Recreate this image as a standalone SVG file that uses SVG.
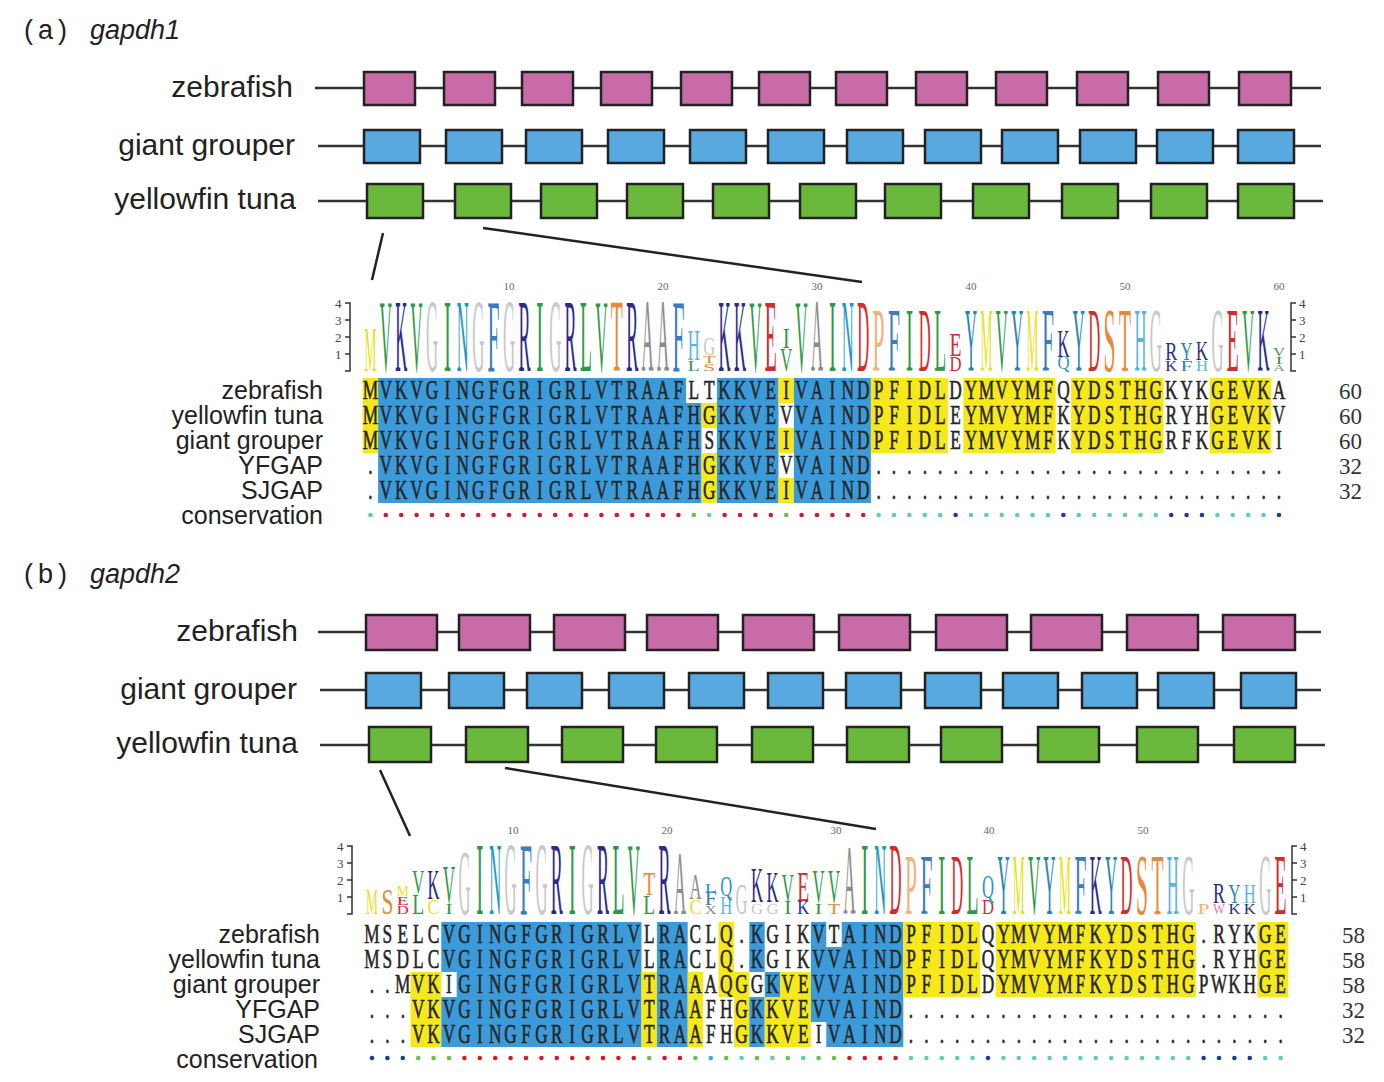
<svg xmlns="http://www.w3.org/2000/svg" width="1384" height="1082" viewBox="0 0 1384 1082">
<style>
.bg{fill:#fff}
.ttl{font-family:'Liberation Sans',Arial,sans-serif;font-size:27px;fill:#222}
.it{font-style:italic}
.glab{font-family:'Liberation Sans',Arial,sans-serif;font-size:30px;fill:#222;text-anchor:end}
.alab{font-family:'Liberation Sans',Arial,sans-serif;font-size:25px;fill:#222;text-anchor:end}
.num{font-family:'Liberation Serif','Times New Roman',serif;font-size:23px;fill:#333;text-anchor:end}
.sq{font-family:'Liberation Serif','Times New Roman',serif;font-size:27px;fill:#262626;stroke:#262626;stroke-width:0.6;text-anchor:middle}
.rl{stroke:#333;stroke-width:2.5}
.ez{fill:#c96ba7;stroke:#222;stroke-width:2.5}
.eg{fill:#59a9e1;stroke:#222;stroke-width:2.5}
.et{fill:#6bb93c;stroke:#222;stroke-width:2.5}
.hb{fill:#3b9ad9}
.hy{fill:#f7e81c}
.cn-line{stroke:#222;stroke-width:2.5}
.ax{font-family:'Liberation Serif','Times New Roman',serif;font-size:13px;fill:#444}
.axl{stroke:#333;stroke-width:1.5;fill:none}
.tk{font-family:'Liberation Serif','Times New Roman',serif;font-size:11px;fill:#666;text-anchor:middle}
.L{font-family:'Liberation Serif','Times New Roman',serif}
.g{fill:#2e9a47}.n{fill:#2b2c88}.gy{fill:#c8c8c8}.a{fill:#8c8c8c}.o{fill:#e7893b}.p{fill:#f3b27c}
.f{fill:#3b7cc1}.h{fill:#5ab5de}.t{fill:#1e9ac6}.r{fill:#d42b2b}.y{fill:#e9df1f}.yt{fill:#2a86b0}.w{fill:#e07ac8}
.cr{fill:#d11b2a}.cg{fill:#6bbf48}.ct{fill:#62cbb7}.cv{fill:#1d3c98}.cb{fill:#46a6d6}
</style>
<rect class="bg" x="0" y="0" width="1384" height="1082"/>

<!-- ===== Panel (a) ===== -->
<g id="title-a">
<text class="ttl" x="24" y="39">(<tspan dx="5">a</tspan><tspan dx="5">)</tspan></text>
<text class="ttl it" x="90" y="39">gapdh1</text>
</g>

<g id="a-gene-zebrafish">
<text class="glab" x="293" y="97">zebrafish</text>
<line class="rl" x1="315" y1="88" x2="1321" y2="88"/>
<rect class="ez" x="364" y="72" width="51" height="33"/>
<rect class="ez" x="444" y="72" width="51" height="33"/>
<rect class="ez" x="522" y="72" width="51" height="33"/>
<rect class="ez" x="601" y="72" width="51" height="33"/>
<rect class="ez" x="681" y="72" width="51" height="33"/>
<rect class="ez" x="759" y="72" width="51" height="33"/>
<rect class="ez" x="836" y="72" width="51" height="33"/>
<rect class="ez" x="916" y="72" width="51" height="33"/>
<rect class="ez" x="996" y="72" width="51" height="33"/>
<rect class="ez" x="1077" y="72" width="51" height="33"/>
<rect class="ez" x="1158" y="72" width="51" height="33"/>
<rect class="ez" x="1239" y="72" width="52" height="33"/>
</g>
<g id="a-gene-grouper">
<text class="glab" x="295" y="155">giant grouper</text>
<line class="rl" x1="318" y1="146" x2="1321" y2="146"/>
<rect class="eg" x="364" y="130" width="56" height="33"/>
<rect class="eg" x="446" y="130" width="56" height="33"/>
<rect class="eg" x="526" y="130" width="56" height="33"/>
<rect class="eg" x="608" y="130" width="56" height="33"/>
<rect class="eg" x="690" y="130" width="56" height="33"/>
<rect class="eg" x="768" y="130" width="56" height="33"/>
<rect class="eg" x="847" y="130" width="56" height="33"/>
<rect class="eg" x="925" y="130" width="56" height="33"/>
<rect class="eg" x="1002" y="130" width="56" height="33"/>
<rect class="eg" x="1080" y="130" width="56" height="33"/>
<rect class="eg" x="1157" y="130" width="56" height="33"/>
<rect class="eg" x="1238" y="130" width="56" height="33"/>
</g>
<g id="a-gene-tuna">
<text class="glab" x="296" y="209">yellowfin tuna</text>
<line class="rl" x1="318" y1="201" x2="1323" y2="201"/>
<rect class="et" x="367" y="184" width="56" height="34"/>
<rect class="et" x="455" y="184" width="56" height="34"/>
<rect class="et" x="541" y="184" width="56" height="34"/>
<rect class="et" x="627" y="184" width="56" height="34"/>
<rect class="et" x="713" y="184" width="56" height="34"/>
<rect class="et" x="800" y="184" width="56" height="34"/>
<rect class="et" x="885" y="184" width="56" height="34"/>
<rect class="et" x="973" y="184" width="56" height="34"/>
<rect class="et" x="1062" y="184" width="56" height="34"/>
<rect class="et" x="1151" y="184" width="56" height="34"/>
<rect class="et" x="1238" y="184" width="56" height="34"/>
</g>

<g id="a-logo">
<path class="axl" d="M345 303 H350 V371 H345 M345 320 H350 M345 337 H350 M345 354 H350"/>
<text class="ax" x="335" y="308">4</text><text class="ax" x="335" y="325">3</text><text class="ax" x="335" y="342">2</text><text class="ax" x="335" y="359">1</text>
<path class="axl" d="M1296 303 H1291 V371 H1296 M1291 320 H1296 M1291 337 H1296 M1291 354 H1296"/>
<text class="ax" x="1299" y="308">4</text><text class="ax" x="1299" y="325">3</text><text class="ax" x="1299" y="342">2</text><text class="ax" x="1299" y="359">1</text>
<text class="tk" x="509" y="290">10</text><text class="tk" x="663" y="290">20</text><text class="tk" x="817" y="290">30</text><text class="tk" x="971" y="290">40</text><text class="tk" x="1125" y="290">50</text><text class="tk" x="1279" y="290">60</text>
<g class="L">
<text class="y" x="363.4" dx="1" y="371" font-size="63.4" textLength="12" lengthAdjust="spacingAndGlyphs">M</text>
<text class="g" x="378.8" dx="1" y="371" font-size="102.7" textLength="12" lengthAdjust="spacingAndGlyphs">V</text>
<text class="n" x="394.2" dx="1" y="371" font-size="102.7" textLength="12" lengthAdjust="spacingAndGlyphs">K</text>
<text class="g" x="409.6" dx="1" y="371" font-size="102.7" textLength="12" lengthAdjust="spacingAndGlyphs">V</text>
<text class="gy" x="425.0" dx="1" y="371" font-size="102.7" textLength="12" lengthAdjust="spacingAndGlyphs">G</text>
<text class="g" x="442.9" dx="1" y="371" font-size="102.7" textLength="7" lengthAdjust="spacingAndGlyphs">I</text>
<text class="t" x="455.8" dx="1" y="371" font-size="102.7" textLength="12" lengthAdjust="spacingAndGlyphs">N</text>
<text class="gy" x="471.2" dx="1" y="371" font-size="102.7" textLength="12" lengthAdjust="spacingAndGlyphs">G</text>
<text class="f" x="486.6" dx="1" y="371" font-size="102.7" textLength="12" lengthAdjust="spacingAndGlyphs">F</text>
<text class="gy" x="502.0" dx="1" y="371" font-size="102.7" textLength="12" lengthAdjust="spacingAndGlyphs">G</text>
<text class="n" x="517.4" dx="1" y="371" font-size="102.7" textLength="12" lengthAdjust="spacingAndGlyphs">R</text>
<text class="g" x="535.3" dx="1" y="371" font-size="102.7" textLength="7" lengthAdjust="spacingAndGlyphs">I</text>
<text class="gy" x="548.2" dx="1" y="371" font-size="102.7" textLength="12" lengthAdjust="spacingAndGlyphs">G</text>
<text class="n" x="563.6" dx="1" y="371" font-size="102.7" textLength="12" lengthAdjust="spacingAndGlyphs">R</text>
<text class="g" x="579.0" dx="1" y="371" font-size="102.7" textLength="12" lengthAdjust="spacingAndGlyphs">L</text>
<text class="g" x="594.4" dx="1" y="371" font-size="102.7" textLength="12" lengthAdjust="spacingAndGlyphs">V</text>
<text class="o" x="609.8" dx="1" y="371" font-size="102.7" textLength="12" lengthAdjust="spacingAndGlyphs">T</text>
<text class="n" x="625.2" dx="1" y="371" font-size="102.7" textLength="12" lengthAdjust="spacingAndGlyphs">R</text>
<text class="a" x="640.6" dx="1" y="371" font-size="102.7" textLength="12" lengthAdjust="spacingAndGlyphs">A</text>
<text class="a" x="656.0" dx="1" y="371" font-size="102.7" textLength="12" lengthAdjust="spacingAndGlyphs">A</text>
<text class="f" x="671.4" dx="1" y="371" font-size="102.7" textLength="12" lengthAdjust="spacingAndGlyphs">F</text>
<text class="g" x="686.8" dx="1" y="371" font-size="15.1" textLength="12" lengthAdjust="spacingAndGlyphs">L</text>
<text class="h" x="686.8" dx="1" y="360" font-size="45.3" textLength="12" lengthAdjust="spacingAndGlyphs">H</text>
<text class="o" x="702.2" dx="1" y="371" font-size="10.6" textLength="12" lengthAdjust="spacingAndGlyphs">S</text>
<text class="o" x="702.2" dx="1" y="363" font-size="10.6" textLength="12" lengthAdjust="spacingAndGlyphs">T</text>
<text class="gy" x="702.2" dx="1" y="355" font-size="25.7" textLength="12" lengthAdjust="spacingAndGlyphs">G</text>
<text class="n" x="717.6" dx="1" y="371" font-size="102.7" textLength="12" lengthAdjust="spacingAndGlyphs">K</text>
<text class="n" x="733.0" dx="1" y="371" font-size="102.7" textLength="12" lengthAdjust="spacingAndGlyphs">K</text>
<text class="g" x="748.4" dx="1" y="371" font-size="102.7" textLength="12" lengthAdjust="spacingAndGlyphs">V</text>
<text class="r" x="763.8" dx="1" y="371" font-size="102.7" textLength="12" lengthAdjust="spacingAndGlyphs">E</text>
<text class="g" x="779.2" dx="1" y="371" font-size="33.2" textLength="12" lengthAdjust="spacingAndGlyphs">V</text>
<text class="g" x="781.7" dx="1" y="348" font-size="30.2" textLength="7" lengthAdjust="spacingAndGlyphs">I</text>
<text class="g" x="794.6" dx="1" y="371" font-size="102.7" textLength="12" lengthAdjust="spacingAndGlyphs">V</text>
<text class="a" x="810.0" dx="1" y="371" font-size="102.7" textLength="12" lengthAdjust="spacingAndGlyphs">A</text>
<text class="g" x="827.9" dx="1" y="371" font-size="102.7" textLength="7" lengthAdjust="spacingAndGlyphs">I</text>
<text class="t" x="840.8" dx="1" y="371" font-size="102.7" textLength="12" lengthAdjust="spacingAndGlyphs">N</text>
<text class="r" x="856.2" dx="1" y="371" font-size="102.7" textLength="12" lengthAdjust="spacingAndGlyphs">D</text>
<text class="p" x="871.6" dx="1" y="371" font-size="90.6" textLength="12" lengthAdjust="spacingAndGlyphs">P</text>
<text class="f" x="887.0" dx="1" y="371" font-size="90.6" textLength="12" lengthAdjust="spacingAndGlyphs">F</text>
<text class="g" x="904.9" dx="1" y="371" font-size="90.6" textLength="7" lengthAdjust="spacingAndGlyphs">I</text>
<text class="r" x="917.8" dx="1" y="371" font-size="90.6" textLength="12" lengthAdjust="spacingAndGlyphs">D</text>
<text class="g" x="933.2" dx="1" y="371" font-size="90.6" textLength="12" lengthAdjust="spacingAndGlyphs">L</text>
<text class="r" x="948.6" dx="1" y="371" font-size="21.1" textLength="12" lengthAdjust="spacingAndGlyphs">D</text>
<text class="r" x="948.6" dx="1" y="356" font-size="33.2" textLength="12" lengthAdjust="spacingAndGlyphs">E</text>
<text class="yt" x="964.0" dx="1" y="371" font-size="90.6" textLength="12" lengthAdjust="spacingAndGlyphs">Y</text>
<text class="y" x="979.4" dx="1" y="371" font-size="90.6" textLength="12" lengthAdjust="spacingAndGlyphs">M</text>
<text class="g" x="994.8" dx="1" y="371" font-size="90.6" textLength="12" lengthAdjust="spacingAndGlyphs">V</text>
<text class="yt" x="1010.2" dx="1" y="371" font-size="90.6" textLength="12" lengthAdjust="spacingAndGlyphs">Y</text>
<text class="y" x="1025.6" dx="1" y="371" font-size="90.6" textLength="12" lengthAdjust="spacingAndGlyphs">M</text>
<text class="f" x="1041.0" dx="1" y="371" font-size="90.6" textLength="12" lengthAdjust="spacingAndGlyphs">F</text>
<text class="t" x="1056.4" dx="1" y="369" font-size="18.1" textLength="12" lengthAdjust="spacingAndGlyphs">Q</text>
<text class="n" x="1056.4" dx="1" y="357" font-size="39.3" textLength="12" lengthAdjust="spacingAndGlyphs">K</text>
<text class="yt" x="1071.8" dx="1" y="371" font-size="90.6" textLength="12" lengthAdjust="spacingAndGlyphs">Y</text>
<text class="r" x="1087.2" dx="1" y="371" font-size="90.6" textLength="12" lengthAdjust="spacingAndGlyphs">D</text>
<text class="o" x="1102.6" dx="1" y="371" font-size="90.6" textLength="12" lengthAdjust="spacingAndGlyphs">S</text>
<text class="o" x="1118.0" dx="1" y="371" font-size="90.6" textLength="12" lengthAdjust="spacingAndGlyphs">T</text>
<text class="h" x="1133.4" dx="1" y="371" font-size="90.6" textLength="12" lengthAdjust="spacingAndGlyphs">H</text>
<text class="gy" x="1148.8" dx="1" y="371" font-size="90.6" textLength="12" lengthAdjust="spacingAndGlyphs">G</text>
<text class="n" x="1164.2" dx="1" y="371" font-size="15.1" textLength="12" lengthAdjust="spacingAndGlyphs">K</text>
<text class="n" x="1164.2" dx="1" y="360" font-size="24.2" textLength="12" lengthAdjust="spacingAndGlyphs">R</text>
<text class="f" x="1179.6" dx="1" y="371" font-size="15.1" textLength="12" lengthAdjust="spacingAndGlyphs">F</text>
<text class="yt" x="1179.6" dx="1" y="360" font-size="24.2" textLength="12" lengthAdjust="spacingAndGlyphs">Y</text>
<text class="h" x="1195.0" dx="1" y="371" font-size="15.1" textLength="12" lengthAdjust="spacingAndGlyphs">H</text>
<text class="n" x="1195.0" dx="1" y="360" font-size="27.2" textLength="12" lengthAdjust="spacingAndGlyphs">K</text>
<text class="gy" x="1210.4" dx="1" y="371" font-size="90.6" textLength="12" lengthAdjust="spacingAndGlyphs">G</text>
<text class="r" x="1225.8" dx="1" y="371" font-size="90.6" textLength="12" lengthAdjust="spacingAndGlyphs">E</text>
<text class="g" x="1241.2" dx="1" y="371" font-size="90.6" textLength="12" lengthAdjust="spacingAndGlyphs">V</text>
<text class="n" x="1256.6" dx="1" y="371" font-size="90.6" textLength="12" lengthAdjust="spacingAndGlyphs">K</text>
<text class="a" x="1272.0" dx="1" y="371" font-size="9.1" textLength="12" lengthAdjust="spacingAndGlyphs">A</text>
<text class="g" x="1274.5" dx="1" y="364" font-size="10.6" textLength="7" lengthAdjust="spacingAndGlyphs">I</text>
<text class="g" x="1272.0" dx="1" y="356" font-size="12.1" textLength="12" lengthAdjust="spacingAndGlyphs">V</text>
</g>
</g>

<g id="a-alignment">
<text class="alab" x="323" y="399">zebrafish</text>
<text class="alab" x="323" y="424">yellowfin tuna</text>
<text class="alab" x="323" y="449">giant grouper</text>
<text class="alab" x="323" y="474">YFGAP</text>
<text class="alab" x="323" y="499">SJGAP</text>
<text class="alab" x="323" y="524">conservation</text>
<rect class="hy" x="362.7" y="378" width="15.4" height="25"/>
<rect class="hb" x="378.1" y="378" width="308" height="25"/>
<rect class="hb" x="716.9" y="378" width="61.6" height="25"/>
<rect class="hy" x="778.5" y="378" width="15.4" height="25"/>
<rect class="hb" x="793.9" y="378" width="77" height="25"/>
<rect class="hy" x="870.9" y="378" width="77" height="25"/>
<rect class="hy" x="963.3" y="378" width="92.4" height="25"/>
<rect class="hy" x="1071.1" y="378" width="92.4" height="25"/>
<rect class="hy" x="1209.7" y="378" width="61.6" height="25"/>
<rect class="hy" x="362.7" y="403" width="15.4" height="25"/>
<rect class="hb" x="378.1" y="403" width="323.4" height="25"/>
<rect class="hy" x="701.5" y="403" width="15.4" height="25"/>
<rect class="hb" x="716.9" y="403" width="61.6" height="25"/>
<rect class="hb" x="793.9" y="403" width="77" height="25"/>
<rect class="hy" x="870.9" y="403" width="77" height="25"/>
<rect class="hy" x="963.3" y="403" width="92.4" height="25"/>
<rect class="hy" x="1071.1" y="403" width="92.4" height="25"/>
<rect class="hy" x="1209.7" y="403" width="61.6" height="25"/>
<rect class="hy" x="362.7" y="428" width="15.4" height="25"/>
<rect class="hb" x="378.1" y="428" width="323.4" height="25"/>
<rect class="hb" x="716.9" y="428" width="61.6" height="25"/>
<rect class="hy" x="778.5" y="428" width="15.4" height="25"/>
<rect class="hb" x="793.9" y="428" width="77" height="25"/>
<rect class="hy" x="870.9" y="428" width="77" height="25"/>
<rect class="hy" x="963.3" y="428" width="92.4" height="25"/>
<rect class="hy" x="1071.1" y="428" width="92.4" height="25"/>
<rect class="hy" x="1209.7" y="428" width="61.6" height="25"/>
<rect class="hb" x="378.1" y="453" width="323.4" height="25"/>
<rect class="hy" x="701.5" y="453" width="15.4" height="25"/>
<rect class="hb" x="716.9" y="453" width="61.6" height="25"/>
<rect class="hb" x="793.9" y="453" width="77" height="25"/>
<rect class="hb" x="378.1" y="478" width="323.4" height="25"/>
<rect class="hy" x="701.5" y="478" width="15.4" height="25"/>
<rect class="hb" x="716.9" y="478" width="61.6" height="25"/>
<rect class="hy" x="778.5" y="478" width="15.4" height="25"/>
<rect class="hb" x="793.9" y="478" width="77" height="25"/>
<text class="sq" transform="translate(370.4,399.4) scale(0.64167,1)" x="0 24 48 72 96 120 144 168 192 216 240 264 288 312 336 360 384 408 432 456 480 504 528 552 576 600 624 648 672 696 720 744 768 792 816 840 864 888 912 936 960 984 1008 1032 1056 1080 1104 1128 1152 1176 1200 1224 1248 1272 1296 1320 1344 1368 1392 1416">MVKVGINGFGRIGRLVTRAAFLTKKVEIVAINDPFIDLDYMVYMFQYDSTHGKYKGEVKA</text>
<text class="sq" transform="translate(370.4,424.4) scale(0.64167,1)" x="0 24 48 72 96 120 144 168 192 216 240 264 288 312 336 360 384 408 432 456 480 504 528 552 576 600 624 648 672 696 720 744 768 792 816 840 864 888 912 936 960 984 1008 1032 1056 1080 1104 1128 1152 1176 1200 1224 1248 1272 1296 1320 1344 1368 1392 1416">MVKVGINGFGRIGRLVTRAAFHGKKVEVVAINDPFIDLEYMVYMFKYDSTHGRYHGEVKV</text>
<text class="sq" transform="translate(370.4,449.4) scale(0.64167,1)" x="0 24 48 72 96 120 144 168 192 216 240 264 288 312 336 360 384 408 432 456 480 504 528 552 576 600 624 648 672 696 720 744 768 792 816 840 864 888 912 936 960 984 1008 1032 1056 1080 1104 1128 1152 1176 1200 1224 1248 1272 1296 1320 1344 1368 1392 1416">MVKVGINGFGRIGRLVTRAAFHSKKVEIVAINDPFIDLEYMVYMFKYDSTHGRFKGEVKI</text>
<text class="sq" transform="translate(370.4,474.4) scale(0.64167,1)" x="0 24 48 72 96 120 144 168 192 216 240 264 288 312 336 360 384 408 432 456 480 504 528 552 576 600 624 648 672 696 720 744 768 792 816 840 864 888 912 936 960 984 1008 1032 1056 1080 1104 1128 1152 1176 1200 1224 1248 1272 1296 1320 1344 1368 1392 1416">.VKVGINGFGRIGRLVTRAAFHGKKVEVVAIND...........................</text>
<text class="sq" transform="translate(370.4,499.4) scale(0.64167,1)" x="0 24 48 72 96 120 144 168 192 216 240 264 288 312 336 360 384 408 432 456 480 504 528 552 576 600 624 648 672 696 720 744 768 792 816 840 864 888 912 936 960 984 1008 1032 1056 1080 1104 1128 1152 1176 1200 1224 1248 1272 1296 1320 1344 1368 1392 1416">.VKVGINGFGRIGRLVTRAAFHGKKVEIVAIND...........................</text>
<text class="num" x="1362" y="399">60</text>
<text class="num" x="1362" y="424">60</text>
<text class="num" x="1362" y="449">60</text>
<text class="num" x="1362" y="474">32</text>
<text class="num" x="1362" y="499">32</text>
<g>
<circle class="ct" cx="370.4" cy="515" r="2.3"/>
<circle class="cr" cx="385.8" cy="515" r="2.3"/><circle class="cr" cx="401.2" cy="515" r="2.3"/><circle class="cr" cx="416.6" cy="515" r="2.3"/><circle class="cr" cx="432.0" cy="515" r="2.3"/><circle class="cr" cx="447.4" cy="515" r="2.3"/><circle class="cr" cx="462.8" cy="515" r="2.3"/><circle class="cr" cx="478.2" cy="515" r="2.3"/><circle class="cr" cx="493.6" cy="515" r="2.3"/><circle class="cr" cx="509.0" cy="515" r="2.3"/><circle class="cr" cx="524.4" cy="515" r="2.3"/><circle class="cr" cx="539.8" cy="515" r="2.3"/><circle class="cr" cx="555.2" cy="515" r="2.3"/><circle class="cr" cx="570.6" cy="515" r="2.3"/><circle class="cr" cx="586.0" cy="515" r="2.3"/><circle class="cr" cx="601.4" cy="515" r="2.3"/><circle class="cr" cx="616.8" cy="515" r="2.3"/><circle class="cr" cx="632.2" cy="515" r="2.3"/><circle class="cr" cx="647.6" cy="515" r="2.3"/><circle class="cr" cx="663.0" cy="515" r="2.3"/><circle class="cr" cx="678.4" cy="515" r="2.3"/>
<circle class="cg" cx="693.8" cy="515" r="2.3"/>
<circle class="ct" cx="709.2" cy="515" r="2.3"/>
<circle class="cr" cx="724.6" cy="515" r="2.3"/><circle class="cr" cx="740.0" cy="515" r="2.3"/><circle class="cr" cx="755.4" cy="515" r="2.3"/><circle class="cr" cx="770.8" cy="515" r="2.3"/>
<circle class="cg" cx="786.2" cy="515" r="2.3"/>
<circle class="cr" cx="801.6" cy="515" r="2.3"/><circle class="cr" cx="817.0" cy="515" r="2.3"/><circle class="cr" cx="832.4" cy="515" r="2.3"/><circle class="cr" cx="847.8" cy="515" r="2.3"/><circle class="cr" cx="863.2" cy="515" r="2.3"/>
<circle class="ct" cx="878.6" cy="515" r="2.3"/><circle class="ct" cx="894.0" cy="515" r="2.3"/><circle class="ct" cx="909.4" cy="515" r="2.3"/><circle class="ct" cx="924.8" cy="515" r="2.3"/><circle class="ct" cx="940.2" cy="515" r="2.3"/>
<circle class="cv" cx="955.6" cy="515" r="2.3"/>
<circle class="ct" cx="971.0" cy="515" r="2.3"/><circle class="ct" cx="986.4" cy="515" r="2.3"/><circle class="ct" cx="1001.8" cy="515" r="2.3"/><circle class="ct" cx="1017.2" cy="515" r="2.3"/><circle class="ct" cx="1032.6" cy="515" r="2.3"/><circle class="ct" cx="1048.0" cy="515" r="2.3"/>
<circle class="cv" cx="1063.4" cy="515" r="2.3"/>
<circle class="ct" cx="1078.8" cy="515" r="2.3"/><circle class="ct" cx="1094.2" cy="515" r="2.3"/><circle class="ct" cx="1109.6" cy="515" r="2.3"/><circle class="ct" cx="1125.0" cy="515" r="2.3"/><circle class="ct" cx="1140.4" cy="515" r="2.3"/><circle class="ct" cx="1155.8" cy="515" r="2.3"/>
<circle class="cv" cx="1171.2" cy="515" r="2.3"/><circle class="cv" cx="1186.6" cy="515" r="2.3"/><circle class="cv" cx="1202.0" cy="515" r="2.3"/>
<circle class="ct" cx="1217.4" cy="515" r="2.3"/><circle class="ct" cx="1232.8" cy="515" r="2.3"/><circle class="ct" cx="1248.2" cy="515" r="2.3"/><circle class="ct" cx="1263.6" cy="515" r="2.3"/>
<circle class="cv" cx="1279.0" cy="515" r="2.3"/>
</g>
</g>

<!-- ===== Panel (b) ===== -->
<g id="title-b">
<text class="ttl" x="24" y="583">(<tspan dx="5">b</tspan><tspan dx="5">)</tspan></text>
<text class="ttl it" x="90" y="583">gapdh2</text>
</g>

<g id="b-gene-zebrafish">
<text class="glab" x="298" y="641">zebrafish</text>
<line class="rl" x1="318" y1="632" x2="1321" y2="632"/>
<rect class="ez" x="366" y="615" width="71" height="35"/>
<rect class="ez" x="459" y="615" width="71" height="35"/>
<rect class="ez" x="554" y="615" width="71" height="35"/>
<rect class="ez" x="647" y="615" width="71" height="35"/>
<rect class="ez" x="743" y="615" width="71" height="35"/>
<rect class="ez" x="839" y="615" width="71" height="35"/>
<rect class="ez" x="936" y="615" width="71" height="35"/>
<rect class="ez" x="1031" y="615" width="71" height="35"/>
<rect class="ez" x="1127" y="615" width="71" height="35"/>
<rect class="ez" x="1223" y="615" width="72" height="35"/>
</g>
<g id="b-gene-grouper">
<text class="glab" x="297" y="699">giant grouper</text>
<line class="rl" x1="320" y1="690" x2="1321" y2="690"/>
<rect class="eg" x="366" y="673" width="55" height="35"/>
<rect class="eg" x="449" y="673" width="55" height="35"/>
<rect class="eg" x="527" y="673" width="55" height="35"/>
<rect class="eg" x="609" y="673" width="55" height="35"/>
<rect class="eg" x="689" y="673" width="55" height="35"/>
<rect class="eg" x="768" y="673" width="55" height="35"/>
<rect class="eg" x="846" y="673" width="55" height="35"/>
<rect class="eg" x="925" y="673" width="56" height="35"/>
<rect class="eg" x="1003" y="673" width="55" height="35"/>
<rect class="eg" x="1082" y="673" width="55" height="35"/>
<rect class="eg" x="1158" y="673" width="56" height="35"/>
<rect class="eg" x="1241" y="673" width="55" height="35"/>
</g>
<g id="b-gene-tuna">
<text class="glab" x="298" y="753">yellowfin tuna</text>
<line class="rl" x1="320" y1="745" x2="1325" y2="745"/>
<rect class="et" x="369" y="727" width="62" height="35"/>
<rect class="et" x="466" y="727" width="62" height="35"/>
<rect class="et" x="562" y="727" width="61" height="35"/>
<rect class="et" x="656" y="727" width="61" height="35"/>
<rect class="et" x="752" y="727" width="61" height="35"/>
<rect class="et" x="847" y="727" width="62" height="35"/>
<rect class="et" x="941" y="727" width="61" height="35"/>
<rect class="et" x="1038" y="727" width="61" height="35"/>
<rect class="et" x="1137" y="727" width="61" height="35"/>
<rect class="et" x="1234" y="727" width="61" height="35"/>
</g>

<g id="b-logo">
<path class="axl" d="M347 846 H352 V914 H347 M347 863 H352 M347 880 H352 M347 897 H352"/>
<text class="ax" x="337" y="851">4</text><text class="ax" x="337" y="868">3</text><text class="ax" x="337" y="885">2</text><text class="ax" x="337" y="902">1</text>
<path class="axl" d="M1297 846 H1292 V914 H1297 M1292 863 H1297 M1292 880 H1297 M1292 897 H1297"/>
<text class="ax" x="1300" y="851">4</text><text class="ax" x="1300" y="868">3</text><text class="ax" x="1300" y="885">2</text><text class="ax" x="1300" y="902">1</text>
<text class="tk" x="513" y="834">10</text><text class="tk" x="667" y="834">20</text><text class="tk" x="836" y="834">30</text><text class="tk" x="989" y="834">40</text><text class="tk" x="1143" y="834">50</text>
<g class="L">
<text class="y" x="365.0" dx="1" y="914" font-size="36.3" textLength="12" lengthAdjust="spacingAndGlyphs">M</text>
<text class="o" x="380.4" dx="1" y="914" font-size="36.3" textLength="12" lengthAdjust="spacingAndGlyphs">S</text>
<text class="r" x="395.8" dx="1" y="914" font-size="12.1" textLength="12" lengthAdjust="spacingAndGlyphs">D</text>
<text class="r" x="395.8" dx="1" y="905" font-size="12.1" textLength="12" lengthAdjust="spacingAndGlyphs">E</text>
<text class="y" x="395.8" dx="1" y="896" font-size="13.6" textLength="12" lengthAdjust="spacingAndGlyphs">M</text>
<text class="g" x="411.2" dx="1" y="914" font-size="30.2" textLength="12" lengthAdjust="spacingAndGlyphs">L</text>
<text class="g" x="411.2" dx="1" y="893" font-size="33.2" textLength="12" lengthAdjust="spacingAndGlyphs">V</text>
<text class="y" x="426.6" dx="1" y="914" font-size="21.1" textLength="12" lengthAdjust="spacingAndGlyphs">C</text>
<text class="n" x="426.6" dx="1" y="899" font-size="42.3" textLength="12" lengthAdjust="spacingAndGlyphs">K</text>
<text class="g" x="444.5" dx="1" y="914" font-size="15.1" textLength="7" lengthAdjust="spacingAndGlyphs">I</text>
<text class="g" x="442.0" dx="1" y="903" font-size="54.4" textLength="12" lengthAdjust="spacingAndGlyphs">V</text>
<text class="gy" x="457.4" dx="1" y="914" font-size="93.7" textLength="12" lengthAdjust="spacingAndGlyphs">G</text>
<text class="g" x="475.3" dx="1" y="914" font-size="102.7" textLength="7" lengthAdjust="spacingAndGlyphs">I</text>
<text class="t" x="488.2" dx="1" y="914" font-size="102.7" textLength="12" lengthAdjust="spacingAndGlyphs">N</text>
<text class="gy" x="503.6" dx="1" y="914" font-size="102.7" textLength="12" lengthAdjust="spacingAndGlyphs">G</text>
<text class="f" x="519.0" dx="1" y="914" font-size="102.7" textLength="12" lengthAdjust="spacingAndGlyphs">F</text>
<text class="gy" x="534.4" dx="1" y="914" font-size="102.7" textLength="12" lengthAdjust="spacingAndGlyphs">G</text>
<text class="n" x="549.8" dx="1" y="914" font-size="102.7" textLength="12" lengthAdjust="spacingAndGlyphs">R</text>
<text class="g" x="567.7" dx="1" y="914" font-size="102.7" textLength="7" lengthAdjust="spacingAndGlyphs">I</text>
<text class="gy" x="580.6" dx="1" y="914" font-size="102.7" textLength="12" lengthAdjust="spacingAndGlyphs">G</text>
<text class="n" x="596.0" dx="1" y="914" font-size="102.7" textLength="12" lengthAdjust="spacingAndGlyphs">R</text>
<text class="g" x="611.4" dx="1" y="914" font-size="102.7" textLength="12" lengthAdjust="spacingAndGlyphs">L</text>
<text class="g" x="626.8" dx="1" y="914" font-size="102.7" textLength="12" lengthAdjust="spacingAndGlyphs">V</text>
<text class="g" x="642.2" dx="1" y="914" font-size="27.2" textLength="12" lengthAdjust="spacingAndGlyphs">L</text>
<text class="o" x="642.2" dx="1" y="895" font-size="33.2" textLength="12" lengthAdjust="spacingAndGlyphs">T</text>
<text class="n" x="657.6" dx="1" y="914" font-size="102.7" textLength="12" lengthAdjust="spacingAndGlyphs">R</text>
<text class="a" x="673.0" dx="1" y="914" font-size="90.6" textLength="12" lengthAdjust="spacingAndGlyphs">A</text>
<text class="y" x="688.4" dx="1" y="914" font-size="21.1" textLength="12" lengthAdjust="spacingAndGlyphs">C</text>
<text class="a" x="688.4" dx="1" y="899" font-size="36.3" textLength="12" lengthAdjust="spacingAndGlyphs">A</text>
<text class="a" x="703.8" dx="1" y="914" font-size="12.1" textLength="12" lengthAdjust="spacingAndGlyphs">X</text>
<text class="f" x="703.8" dx="1" y="905" font-size="18.1" textLength="12" lengthAdjust="spacingAndGlyphs">F</text>
<text class="t" x="703.8" dx="1" y="892" font-size="12.1" textLength="12" lengthAdjust="spacingAndGlyphs">L</text>
<text class="h" x="719.2" dx="1" y="914" font-size="24.2" textLength="12" lengthAdjust="spacingAndGlyphs">H</text>
<text class="t" x="719.2" dx="1" y="896" font-size="30.2" textLength="12" lengthAdjust="spacingAndGlyphs">Q</text>
<text class="gy" x="734.6" dx="1" y="914" font-size="45.3" textLength="12" lengthAdjust="spacingAndGlyphs">G</text>
<text class="gy" x="750.0" dx="1" y="914" font-size="15.1" textLength="12" lengthAdjust="spacingAndGlyphs">G</text>
<text class="n" x="750.0" dx="1" y="902" font-size="51.4" textLength="12" lengthAdjust="spacingAndGlyphs">K</text>
<text class="gy" x="765.4" dx="1" y="914" font-size="15.1" textLength="12" lengthAdjust="spacingAndGlyphs">G</text>
<text class="n" x="765.4" dx="1" y="902" font-size="45.3" textLength="12" lengthAdjust="spacingAndGlyphs">K</text>
<text class="g" x="783.3" dx="1" y="914" font-size="18.1" textLength="7" lengthAdjust="spacingAndGlyphs">I</text>
<text class="g" x="780.8" dx="1" y="901" font-size="39.3" textLength="12" lengthAdjust="spacingAndGlyphs">V</text>
<text class="n" x="796.2" dx="1" y="914" font-size="18.1" textLength="12" lengthAdjust="spacingAndGlyphs">K</text>
<text class="r" x="796.2" dx="1" y="901" font-size="42.3" textLength="12" lengthAdjust="spacingAndGlyphs">E</text>
<text class="g" x="814.1" dx="1" y="914" font-size="15.1" textLength="7" lengthAdjust="spacingAndGlyphs">I</text>
<text class="g" x="811.6" dx="1" y="903" font-size="48.3" textLength="12" lengthAdjust="spacingAndGlyphs">V</text>
<text class="o" x="827.0" dx="1" y="914" font-size="15.1" textLength="12" lengthAdjust="spacingAndGlyphs">T</text>
<text class="g" x="827.0" dx="1" y="903" font-size="48.3" textLength="12" lengthAdjust="spacingAndGlyphs">V</text>
<text class="a" x="842.4" dx="1" y="914" font-size="99.7" textLength="12" lengthAdjust="spacingAndGlyphs">A</text>
<text class="g" x="860.3" dx="1" y="914" font-size="102.7" textLength="7" lengthAdjust="spacingAndGlyphs">I</text>
<text class="t" x="873.2" dx="1" y="914" font-size="102.7" textLength="12" lengthAdjust="spacingAndGlyphs">N</text>
<text class="r" x="888.6" dx="1" y="914" font-size="102.7" textLength="12" lengthAdjust="spacingAndGlyphs">D</text>
<text class="p" x="904.0" dx="1" y="914" font-size="87.6" textLength="12" lengthAdjust="spacingAndGlyphs">P</text>
<text class="f" x="919.4" dx="1" y="914" font-size="87.6" textLength="12" lengthAdjust="spacingAndGlyphs">F</text>
<text class="g" x="937.3" dx="1" y="914" font-size="87.6" textLength="7" lengthAdjust="spacingAndGlyphs">I</text>
<text class="r" x="950.2" dx="1" y="914" font-size="87.6" textLength="12" lengthAdjust="spacingAndGlyphs">D</text>
<text class="g" x="965.6" dx="1" y="914" font-size="87.6" textLength="12" lengthAdjust="spacingAndGlyphs">L</text>
<text class="r" x="981.0" dx="1" y="914" font-size="21.1" textLength="12" lengthAdjust="spacingAndGlyphs">D</text>
<text class="t" x="981.0" dx="1" y="898" font-size="33.2" textLength="12" lengthAdjust="spacingAndGlyphs">Q</text>
<text class="yt" x="996.4" dx="1" y="914" font-size="87.6" textLength="12" lengthAdjust="spacingAndGlyphs">Y</text>
<text class="y" x="1011.8" dx="1" y="914" font-size="87.6" textLength="12" lengthAdjust="spacingAndGlyphs">M</text>
<text class="g" x="1027.2" dx="1" y="914" font-size="87.6" textLength="12" lengthAdjust="spacingAndGlyphs">V</text>
<text class="yt" x="1042.6" dx="1" y="914" font-size="87.6" textLength="12" lengthAdjust="spacingAndGlyphs">Y</text>
<text class="y" x="1058.0" dx="1" y="914" font-size="87.6" textLength="12" lengthAdjust="spacingAndGlyphs">M</text>
<text class="f" x="1073.4" dx="1" y="914" font-size="87.6" textLength="12" lengthAdjust="spacingAndGlyphs">F</text>
<text class="n" x="1088.8" dx="1" y="914" font-size="87.6" textLength="12" lengthAdjust="spacingAndGlyphs">K</text>
<text class="yt" x="1104.2" dx="1" y="914" font-size="87.6" textLength="12" lengthAdjust="spacingAndGlyphs">Y</text>
<text class="r" x="1119.6" dx="1" y="914" font-size="87.6" textLength="12" lengthAdjust="spacingAndGlyphs">D</text>
<text class="o" x="1135.0" dx="1" y="914" font-size="87.6" textLength="12" lengthAdjust="spacingAndGlyphs">S</text>
<text class="o" x="1150.4" dx="1" y="914" font-size="87.6" textLength="12" lengthAdjust="spacingAndGlyphs">T</text>
<text class="h" x="1165.8" dx="1" y="914" font-size="87.6" textLength="12" lengthAdjust="spacingAndGlyphs">H</text>
<text class="gy" x="1181.2" dx="1" y="914" font-size="87.6" textLength="12" lengthAdjust="spacingAndGlyphs">G</text>
<text class="p" x="1196.6" dx="1" y="914" font-size="15.1" textLength="12" lengthAdjust="spacingAndGlyphs">P</text>
<text class="w" x="1212.0" dx="1" y="914" font-size="15.1" textLength="12" lengthAdjust="spacingAndGlyphs">W</text>
<text class="n" x="1212.0" dx="1" y="903" font-size="30.2" textLength="12" lengthAdjust="spacingAndGlyphs">R</text>
<text class="n" x="1227.4" dx="1" y="914" font-size="15.1" textLength="12" lengthAdjust="spacingAndGlyphs">K</text>
<text class="yt" x="1227.4" dx="1" y="903" font-size="27.2" textLength="12" lengthAdjust="spacingAndGlyphs">Y</text>
<text class="n" x="1242.8" dx="1" y="914" font-size="15.1" textLength="12" lengthAdjust="spacingAndGlyphs">K</text>
<text class="h" x="1242.8" dx="1" y="903" font-size="27.2" textLength="12" lengthAdjust="spacingAndGlyphs">H</text>
<text class="gy" x="1258.2" dx="1" y="914" font-size="87.6" textLength="12" lengthAdjust="spacingAndGlyphs">G</text>
<text class="r" x="1273.6" dx="1" y="914" font-size="87.6" textLength="12" lengthAdjust="spacingAndGlyphs">E</text>
</g>
</g>

<g id="b-alignment">
<text class="alab" x="320" y="943">zebrafish</text>
<text class="alab" x="320" y="968">yellowfin tuna</text>
<text class="alab" x="320" y="993">giant grouper</text>
<text class="alab" x="320" y="1018">YFGAP</text>
<text class="alab" x="320" y="1043">SJGAP</text>
<text class="alab" x="318" y="1068">conservation</text>
<rect class="hb" x="441.3" y="922" width="200.2" height="25"/>
<rect class="hb" x="656.9" y="922" width="30.8" height="25"/>
<rect class="hy" x="718.5" y="922" width="15.4" height="25"/>
<rect class="hb" x="749.3" y="922" width="15.4" height="25"/>
<rect class="hb" x="810.9" y="922" width="15.4" height="25"/>
<rect class="hb" x="841.7" y="922" width="61.6" height="25"/>
<rect class="hy" x="903.3" y="922" width="77" height="25"/>
<rect class="hy" x="995.7" y="922" width="200.2" height="25"/>
<rect class="hy" x="1257.5" y="922" width="30.8" height="25"/>
<rect class="hb" x="441.3" y="947" width="200.2" height="25"/>
<rect class="hb" x="656.9" y="947" width="30.8" height="25"/>
<rect class="hy" x="718.5" y="947" width="15.4" height="25"/>
<rect class="hb" x="749.3" y="947" width="15.4" height="25"/>
<rect class="hb" x="810.9" y="947" width="92.4" height="25"/>
<rect class="hy" x="903.3" y="947" width="77" height="25"/>
<rect class="hy" x="995.7" y="947" width="200.2" height="25"/>
<rect class="hy" x="1257.5" y="947" width="30.8" height="25"/>
<rect class="hy" x="410.5" y="972" width="30.8" height="25"/>
<rect class="hb" x="456.7" y="972" width="184.8" height="25"/>
<rect class="hy" x="641.5" y="972" width="15.4" height="25"/>
<rect class="hb" x="656.9" y="972" width="30.8" height="25"/>
<rect class="hy" x="687.7" y="972" width="15.4" height="25"/>
<rect class="hy" x="718.5" y="972" width="30.8" height="25"/>
<rect class="hb" x="764.7" y="972" width="15.4" height="25"/>
<rect class="hy" x="780.1" y="972" width="30.8" height="25"/>
<rect class="hb" x="810.9" y="972" width="92.4" height="25"/>
<rect class="hy" x="903.3" y="972" width="77" height="25"/>
<rect class="hy" x="995.7" y="972" width="200.2" height="25"/>
<rect class="hy" x="1257.5" y="972" width="30.8" height="25"/>
<rect class="hy" x="410.5" y="997" width="30.8" height="25"/>
<rect class="hb" x="441.3" y="997" width="200.2" height="25"/>
<rect class="hy" x="641.5" y="997" width="15.4" height="25"/>
<rect class="hb" x="656.9" y="997" width="30.8" height="25"/>
<rect class="hy" x="687.7" y="997" width="15.4" height="25"/>
<rect class="hy" x="733.9" y="997" width="15.4" height="25"/>
<rect class="hb" x="749.3" y="997" width="15.4" height="25"/>
<rect class="hy" x="764.7" y="997" width="46.2" height="25"/>
<rect class="hb" x="810.9" y="997" width="92.4" height="25"/>
<rect class="hy" x="410.5" y="1022" width="30.8" height="25"/>
<rect class="hb" x="441.3" y="1022" width="200.2" height="25"/>
<rect class="hy" x="641.5" y="1022" width="15.4" height="25"/>
<rect class="hb" x="656.9" y="1022" width="30.8" height="25"/>
<rect class="hy" x="687.7" y="1022" width="15.4" height="25"/>
<rect class="hy" x="733.9" y="1022" width="15.4" height="25"/>
<rect class="hb" x="749.3" y="1022" width="15.4" height="25"/>
<rect class="hy" x="764.7" y="1022" width="46.2" height="25"/>
<rect class="hb" x="826.3" y="1022" width="77" height="25"/>
<text class="sq" transform="translate(372,943.4) scale(0.64167,1)" x="0 24 48 72 96 120 144 168 192 216 240 264 288 312 336 360 384 408 432 456 480 504 528 552 576 600 624 648 672 696 720 744 768 792 816 840 864 888 912 936 960 984 1008 1032 1056 1080 1104 1128 1152 1176 1200 1224 1248 1272 1296 1320 1344 1368 1392 1416">MSELCVGINGFGRIGRLVLRACLQ.KGIKVTAINDPFIDLQYMVYMFKYDSTHG.RYKGE</text>
<text class="sq" transform="translate(372,968.4) scale(0.64167,1)" x="0 24 48 72 96 120 144 168 192 216 240 264 288 312 336 360 384 408 432 456 480 504 528 552 576 600 624 648 672 696 720 744 768 792 816 840 864 888 912 936 960 984 1008 1032 1056 1080 1104 1128 1152 1176 1200 1224 1248 1272 1296 1320 1344 1368 1392 1416">MSDLCVGINGFGRIGRLVLRACLQ.KGIKVVAINDPFIDLQYMVYMFKYDSTHG.RYHGE</text>
<text class="sq" transform="translate(372,993.4) scale(0.64167,1)" x="0 24 48 72 96 120 144 168 192 216 240 264 288 312 336 360 384 408 432 456 480 504 528 552 576 600 624 648 672 696 720 744 768 792 816 840 864 888 912 936 960 984 1008 1032 1056 1080 1104 1128 1152 1176 1200 1224 1248 1272 1296 1320 1344 1368 1392 1416">..MVKIGINGFGRIGRLVTRAAAQGGKVEVVAINDPFIDLDYMVYMFKYDSTHGPWKHGE</text>
<text class="sq" transform="translate(372,1018.4) scale(0.64167,1)" x="0 24 48 72 96 120 144 168 192 216 240 264 288 312 336 360 384 408 432 456 480 504 528 552 576 600 624 648 672 696 720 744 768 792 816 840 864 888 912 936 960 984 1008 1032 1056 1080 1104 1128 1152 1176 1200 1224 1248 1272 1296 1320 1344 1368 1392 1416">...VKVGINGFGRIGRLVTRAAFHGKKVEVVAIND.........................</text>
<text class="sq" transform="translate(372,1043.4) scale(0.64167,1)" x="0 24 48 72 96 120 144 168 192 216 240 264 288 312 336 360 384 408 432 456 480 504 528 552 576 600 624 648 672 696 720 744 768 792 816 840 864 888 912 936 960 984 1008 1032 1056 1080 1104 1128 1152 1176 1200 1224 1248 1272 1296 1320 1344 1368 1392 1416">...VKVGINGFGRIGRLVTRAAFHGKKVEIVAIND.........................</text>
<text class="num" x="1365" y="943">58</text>
<text class="num" x="1365" y="968">58</text>
<text class="num" x="1365" y="993">58</text>
<text class="num" x="1365" y="1018">32</text>
<text class="num" x="1365" y="1043">32</text>
<g>
<circle class="cv" cx="372.0" cy="1058" r="2.3"/><circle class="cv" cx="387.4" cy="1058" r="2.3"/><circle class="cv" cx="402.8" cy="1058" r="2.3"/>
<circle class="cg" cx="418.2" cy="1058" r="2.3"/><circle class="cg" cx="433.6" cy="1058" r="2.3"/><circle class="cg" cx="449.0" cy="1058" r="2.3"/>
<circle class="cr" cx="464.4" cy="1058" r="2.3"/><circle class="cr" cx="479.8" cy="1058" r="2.3"/><circle class="cr" cx="495.2" cy="1058" r="2.3"/><circle class="cr" cx="510.6" cy="1058" r="2.3"/><circle class="cr" cx="526.0" cy="1058" r="2.3"/><circle class="cr" cx="541.4" cy="1058" r="2.3"/><circle class="cr" cx="556.8" cy="1058" r="2.3"/><circle class="cr" cx="572.2" cy="1058" r="2.3"/><circle class="cr" cx="587.6" cy="1058" r="2.3"/><circle class="cr" cx="603.0" cy="1058" r="2.3"/><circle class="cr" cx="618.4" cy="1058" r="2.3"/><circle class="cr" cx="633.8" cy="1058" r="2.3"/>
<circle class="cg" cx="649.2" cy="1058" r="2.3"/>
<circle class="cr" cx="664.6" cy="1058" r="2.3"/><circle class="cr" cx="680.0" cy="1058" r="2.3"/>
<circle class="cg" cx="695.4" cy="1058" r="2.3"/>
<circle class="cb" cx="710.8" cy="1058" r="2.3"/>
<circle class="cg" cx="726.2" cy="1058" r="2.3"/>
<circle class="ct" cx="741.6" cy="1058" r="2.3"/>
<circle class="cg" cx="757.0" cy="1058" r="2.3"/>
<circle class="ct" cx="772.4" cy="1058" r="2.3"/>
<circle class="cg" cx="787.8" cy="1058" r="2.3"/>
<circle class="ct" cx="803.2" cy="1058" r="2.3"/>
<circle class="cg" cx="818.6" cy="1058" r="2.3"/><circle class="cg" cx="834.0" cy="1058" r="2.3"/>
<circle class="cr" cx="849.4" cy="1058" r="2.3"/><circle class="cr" cx="864.8" cy="1058" r="2.3"/><circle class="cr" cx="880.2" cy="1058" r="2.3"/><circle class="cr" cx="895.6" cy="1058" r="2.3"/>
<circle class="ct" cx="911.0" cy="1058" r="2.3"/><circle class="ct" cx="926.4" cy="1058" r="2.3"/><circle class="ct" cx="941.8" cy="1058" r="2.3"/><circle class="ct" cx="957.2" cy="1058" r="2.3"/><circle class="ct" cx="972.6" cy="1058" r="2.3"/>
<circle class="cv" cx="988.0" cy="1058" r="2.3"/>
<circle class="ct" cx="1003.4" cy="1058" r="2.3"/><circle class="ct" cx="1018.8" cy="1058" r="2.3"/><circle class="ct" cx="1034.2" cy="1058" r="2.3"/><circle class="ct" cx="1049.6" cy="1058" r="2.3"/><circle class="ct" cx="1065.0" cy="1058" r="2.3"/><circle class="ct" cx="1080.4" cy="1058" r="2.3"/><circle class="ct" cx="1095.8" cy="1058" r="2.3"/><circle class="ct" cx="1111.2" cy="1058" r="2.3"/><circle class="ct" cx="1126.6" cy="1058" r="2.3"/><circle class="ct" cx="1142.0" cy="1058" r="2.3"/><circle class="ct" cx="1157.4" cy="1058" r="2.3"/><circle class="ct" cx="1172.8" cy="1058" r="2.3"/><circle class="ct" cx="1188.2" cy="1058" r="2.3"/>
<circle class="cv" cx="1203.6" cy="1058" r="2.3"/><circle class="cv" cx="1219.0" cy="1058" r="2.3"/><circle class="cv" cx="1234.4" cy="1058" r="2.3"/><circle class="cv" cx="1249.8" cy="1058" r="2.3"/>
<circle class="ct" cx="1265.2" cy="1058" r="2.3"/><circle class="ct" cx="1280.6" cy="1058" r="2.3"/>
</g>
</g>

<g id="connectors">
<line class="cn-line" x1="383" y1="233" x2="372" y2="280"/>
<line class="cn-line" x1="483" y1="228" x2="862" y2="282"/>
<line class="cn-line" x1="380" y1="770" x2="410" y2="836"/>
<line class="cn-line" x1="505" y1="768" x2="876" y2="829"/>
</g>
</svg>
